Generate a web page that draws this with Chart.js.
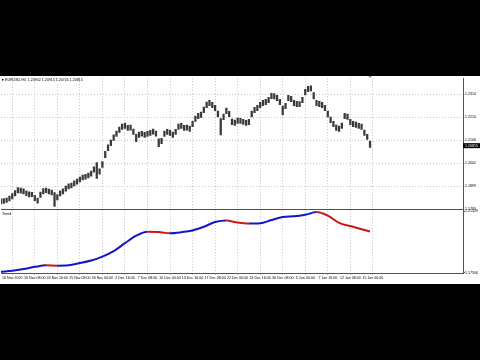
<!DOCTYPE html>
<html><head><meta charset="utf-8">
<script src="https://cdn.jsdelivr.net/npm/chart.js@4.4.1/dist/chart.umd.min.js"></script>
<style>
html,body{margin:0;padding:0;background:#000;width:480px;height:360px;overflow:hidden}
#wrap{position:absolute;left:0;top:76px;width:480px;height:208px;background:#fff}
canvas{display:block}
</style></head>
<body><div id="wrap"><canvas id="c" width="480" height="208"></canvas></div>
<script>
// ---- data ----
const symbolTitle = "EURUSD,H4  1.20902 1.20915 1.20745 1.20815";
const indicatorName = "Trend";
const closePrice = 1.20815;
const closeLabel = "1.20815";
const highs = [1.1842,1.1843,1.1846,1.1855,1.1866,1.1879,1.1893,1.1891,1.1887,1.1878,
1.1874,1.1872,1.1858,1.1846,1.1873,1.1888,1.1891,1.1886,1.1882,1.1870,
1.1861,1.1878,1.1887,1.1900,1.1910,1.1913,1.1923,1.1931,1.1940,1.1949,
1.1953,1.1958,1.1967,1.1986,1.2005,1.1977,1.2010,1.2056,1.2085,1.2107,
1.2130,1.2147,1.2165,1.2178,1.2183,1.2173,1.2174,1.2156,1.2133,1.2142,
1.2146,1.2141,1.2146,1.2150,1.2156,1.2147,1.2112,1.2115,1.2147,1.2155,
1.2150,1.2142,1.2155,1.2178,1.2182,1.2173,1.2174,1.2169,1.2191,1.2214,
1.2227,1.2232,1.2255,1.2277,1.2285,1.2276,1.2263,1.2237,1.2203,1.2223,
1.2250,1.2236,1.2201,1.2196,1.2205,1.2204,1.2200,1.2195,1.2200,1.2237,
1.2254,1.2263,1.2276,1.2285,1.2290,1.2299,1.2317,1.2316,1.2308,1.2290,
1.2259,1.2272,1.2308,1.2303,1.2285,1.2281,1.2280,1.2299,1.2335,1.2348,
1.2350,1.2320,1.2285,1.2281,1.2276,1.2263,1.2237,1.2210,1.2191,1.2174,
1.2169,1.2183,1.2227,1.2223,1.2200,1.2191,1.2187,1.2182,1.2178,1.2151,
1.2133,1.2102];
const lows = [1.1820,1.1822,1.1826,1.1833,1.1842,1.1855,1.1869,1.1868,1.1864,1.1857,
1.1851,1.1852,1.1834,1.1823,1.1849,1.1865,1.1870,1.1864,1.1860,1.1808,
1.1838,1.1855,1.1864,1.1877,1.1887,1.1891,1.1900,1.1908,1.1918,1.1927,
1.1931,1.1936,1.1944,1.1962,1.1934,1.1953,1.1984,1.2027,1.2059,1.2082,
1.2105,1.2123,1.2141,1.2155,1.2159,1.2150,1.2151,1.2132,1.2099,1.2119,
1.2124,1.2119,1.2123,1.2128,1.2133,1.2124,1.2077,1.2091,1.2123,1.2132,
1.2128,1.2119,1.2132,1.2154,1.2159,1.2150,1.2151,1.2145,1.2167,1.2190,
1.2203,1.2208,1.2230,1.2252,1.2261,1.2252,1.2239,1.2211,1.2130,1.2198,
1.2225,1.2212,1.2176,1.2172,1.2181,1.2182,1.2177,1.2172,1.2176,1.2211,
1.2230,1.2239,1.2252,1.2261,1.2266,1.2275,1.2293,1.2292,1.2284,1.2266,
1.2220,1.2248,1.2284,1.2279,1.2261,1.2257,1.2257,1.2275,1.2310,1.2324,
1.2328,1.2292,1.2261,1.2257,1.2252,1.2239,1.2211,1.2185,1.2167,1.2150,
1.2145,1.2159,1.2203,1.2199,1.2176,1.2167,1.2163,1.2159,1.2154,1.2127,
1.2109,1.2074];
const trendIdx = [0,4,8,12,16,20,24,28,32,36,40,44,48,52,56,60,64,68,72,76,80,84,88,92,96,100,104,108,112,116,120,124,128,131];
const trendVals = [1.17568,1.17629,1.17734,1.17870,1.17962,1.17944,1.17968,1.18104,1.18258,1.18505,
1.18844,1.19337,1.19800,1.20046,1.20028,1.19954,1.20016,1.20127,1.20355,1.20646,
1.20737,1.20614,1.20552,1.20571,1.20774,1.20965,1.21002,1.21095,1.21267,1.21045,
1.20601,1.20398,1.20200,1.20059];
const timeLabels = ["10 Nov 2020","16 Nov 08:00","20 Nov 16:00","25 Nov 08:00","30 Nov 00:00","2 Dec 16:00",
"7 Dec 08:00","10 Dec 00:00","14 Dec 16:00","17 Dec 08:00","22 Dec 00:00","24 Dec 16:00","30 Dec 08:00",
"5 Jan 00:00","7 Jan 16:00","12 Jan 08:00","15 Jan 00:00"];
const priceTicks = [1.1795,1.18469,1.18987,1.19506,1.20024,1.20543,1.21061,1.21580,1.22098,1.22617,1.23135,1.23654];
const priceTickLabels = ["1.1795","1.1847","1.1899","1.1951","1.2002","1.2054","1.2106","1.2158","1.2210","1.2262","1.2314","1.2365"];
const trendTicks = [1.17506,1.21329];
const trendTickLabels = ["1.17506","1.21329"];

// ---- build ----
const SLOTS = 165;
const slots = Array.from({length: SLOTS}, () => '');
timeLabels.forEach((t,k) => { slots[4 + 8*k] = t; });
const candleData = highs.map((h,i) => [lows[i], h]);
const trendData = Array(SLOTS).fill(null);
trendIdx.forEach((ix,k) => { trendData[ix] = trendVals[k]; });
// falling stretch of the trend line -> red, rising -> blue
function fallingAt(i) {
  let k = 0;
  while (k < trendIdx.length - 2 && trendIdx[k + 1] <= i) k++;
  return trendVals[k + 1] < trendVals[k];
}

const FONT = {family: '"Liberation Sans", Arial, sans-serif', size: 3.6};
const BLUE = '#1414c8', RED = '#d01414';

const extras = {
  id: 'extras',
  afterDraw(chart) {
    const ctx = chart.ctx, ca = chart.chartArea;
    const y = chart.scales.y, y2 = chart.scales.y2;
    ctx.save();
    ctx.strokeStyle = '#505050'; ctx.lineWidth = 1;
    ctx.beginPath(); ctx.moveTo(ca.left, Math.round(y2.top) + 0.5); ctx.lineTo(ca.right, Math.round(y2.top) + 0.5); ctx.stroke();
    ctx.fillStyle = '#000';
    ctx.font = '3.6px "Liberation Sans", Arial, sans-serif';
    ctx.textBaseline = 'middle'; ctx.textAlign = 'left';
    ctx.fillRect(2, 3, 1.5, 1.5);
    ctx.fillText(symbolTitle, 5, 4);
    ctx.fillText(indicatorName, 2, y2.top + 4.5);
    const py = y.getPixelForValue(closePrice);
    ctx.fillStyle = '#000';
    ctx.fillRect(ca.right, py - 2.5, chart.width - ca.right, 5);
    ctx.fillStyle = '#fff';
    ctx.fillText(closeLabel, ca.right + 2, py + 0.2);
    ctx.fillStyle = '#909090';
    ctx.beginPath(); ctx.moveTo(368, 0); ctx.lineTo(372, 0); ctx.lineTo(370, 2); ctx.closePath(); ctx.fill();
    ctx.restore();
  }
};

new Chart(document.getElementById('c'), {
  type: 'bar',
  data: {
    labels: slots,
    datasets: [
      {
        type: 'bar', data: candleData, yAxisID: 'y', xAxisID: 'x',
        backgroundColor: '#3a3a3a', borderWidth: 0, barThickness: 1.6, grouped: false, order: 2
      },
      {
        type: 'line', data: trendData, yAxisID: 'y2', xAxisID: 'x',
        borderWidth: 2, pointRadius: 0, spanGaps: true, cubicInterpolationMode: 'monotone',
        borderColor: BLUE,
        segment: { borderColor: c => (fallingAt(c.p0DataIndex) ? RED : BLUE) },
        order: 1
      }
    ]
  },
  options: {
    responsive: false, animation: false, devicePixelRatio: 1,
    layout: {padding: 0},
    plugins: {legend: {display: false}, tooltip: {enabled: false}, title: {display: false}},
    scales: {
      x: {
        type: 'category', offset: false,
        grid: {offset: false, drawTicks: true, tickLength: 2,
          color: c => (c.tick && c.tick.label) ? '#c4c4c4' : 'rgba(0,0,0,0)'},
        border: {display: true, color: '#555', dash: [1, 2]},
        ticks: {autoSkip: false, maxRotation: 0, minRotation: 0, padding: 1, color: '#000', font: FONT,
          callback: (v, i) => slots[i]},
        afterFit: s => { s.height = 11; }
      },
      y: {
        type: 'linear', position: 'right', stack: 'panes', stackWeight: 132, weight: 1,
        min: 1.1795, max: 1.2385,
        afterBuildTicks: s => { s.ticks = priceTicks.map(v => ({value: v})); },
        grid: {color: '#c4c4c4', drawTicks: true, tickLength: 2},
        border: {display: true, color: '#555', dash: [1, 2]},
        ticks: {padding: 0, color: '#000', font: FONT, callback: (v, i) => priceTickLabels[i]},
        afterFit: s => { s.width = 17; }
      },
      y2: {
        type: 'linear', position: 'right', stack: 'panes', stackWeight: 64, weight: 1,
        min: 1.17488, max: 1.21434,
        afterBuildTicks: s => { s.ticks = trendTicks.map(v => ({value: v})); },
        grid: {display: true, drawOnChartArea: false, drawTicks: true, tickLength: 2, color: '#555'},
        border: {display: true, color: '#555'},
        ticks: {padding: 0, color: '#000', font: FONT, callback: (v, i) => trendTickLabels[i]},
        afterFit: s => { s.width = 17; }
      }
    }
  },
  plugins: [extras]
});
</script>
</body></html>
